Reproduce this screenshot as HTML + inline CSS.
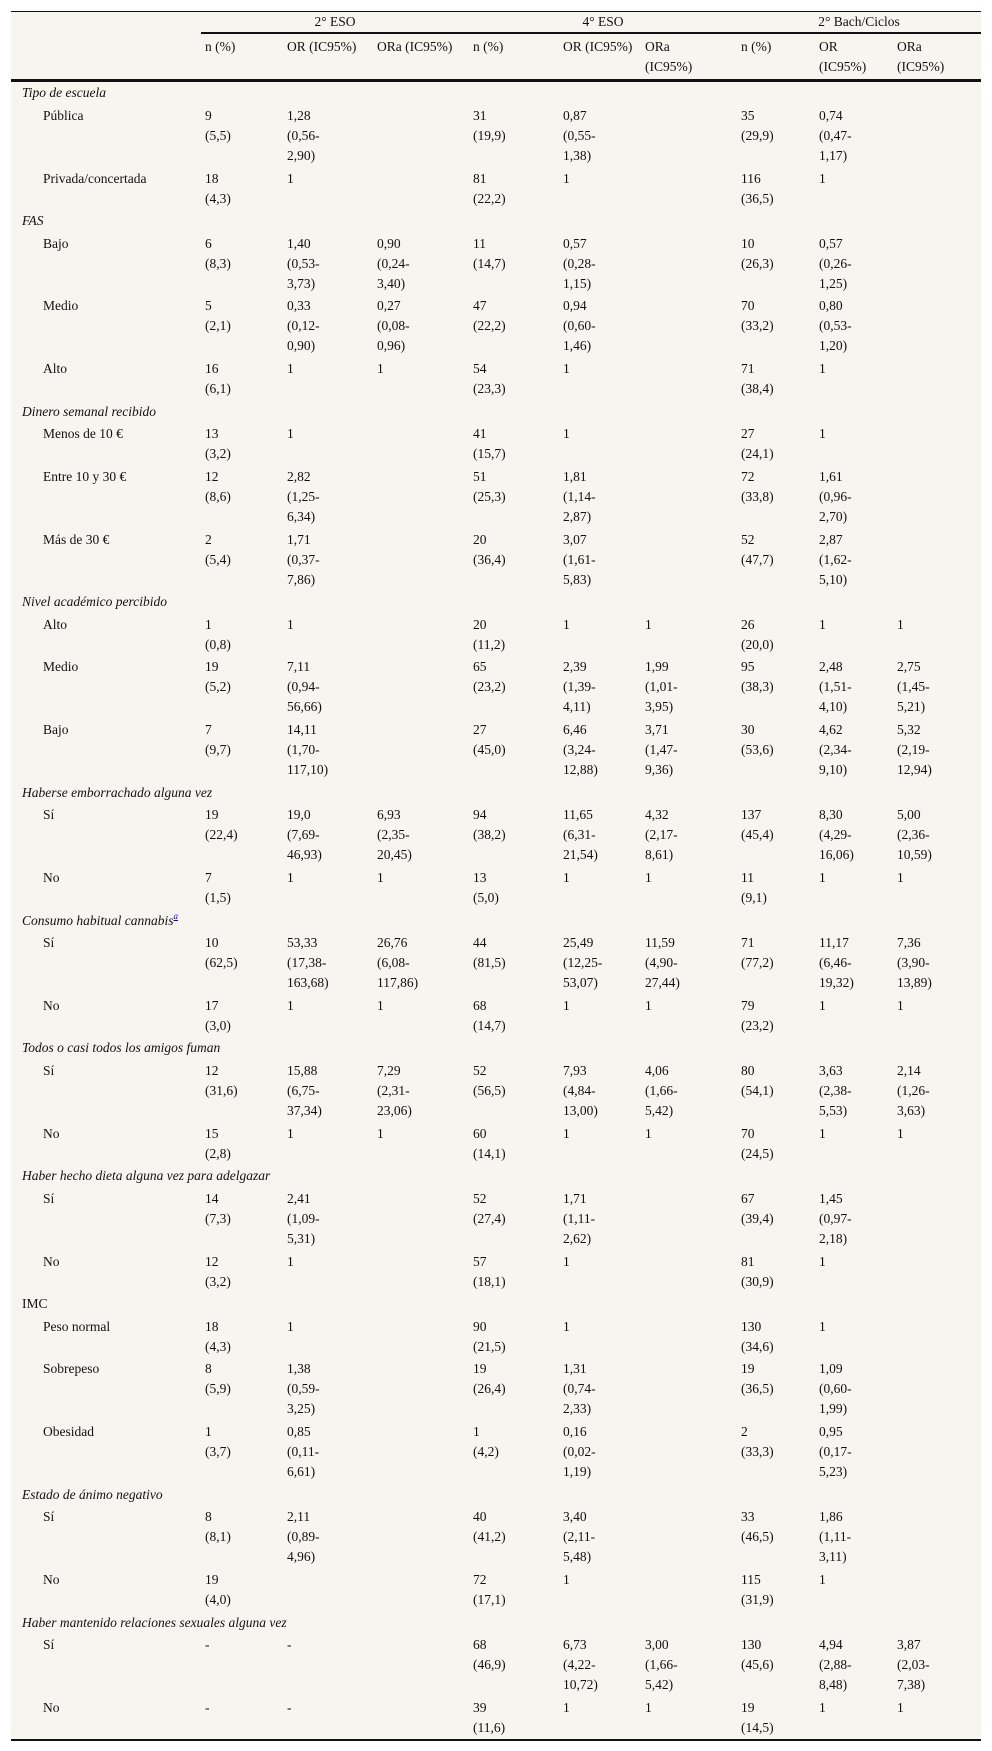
<!DOCTYPE html>
<html><head><meta charset="utf-8">
<style>
html,body{margin:0;padding:0;background:#fff;}
body{width:992px;height:1751px;position:relative;overflow:hidden;font-family:"Liberation Serif",serif;font-size:13.5px;color:#111;}
#tbl{position:absolute;left:11px;top:11px;width:970px;border-collapse:collapse;table-layout:fixed;background:#f7f5ef;border-top:1.5px solid #111;border-bottom:2px solid #111;}
#tbl td,#tbl th{padding:1.32px 0 1.32px 4px;line-height:20px;vertical-align:top;text-align:left;font-weight:normal;white-space:nowrap;}
#tbl th.grp{text-align:center;padding:0;height:20px;line-height:19px;border-bottom:2px solid #111;}
#tbl tr.sh th{padding-top:3px;padding-bottom:2px;border-bottom:3px solid #111;}
#tbl td.cat{font-style:italic;padding-left:11px;}
#tbl td.cat.plain{font-style:normal;}
#tbl td.sub{padding-left:32px;}
.fn{display:inline-block;height:0;line-height:0;vertical-align:baseline;position:relative;top:-6px;}
.fn a{color:#00e;font-size:9px;line-height:0;text-decoration:underline;}
</style></head><body>
<table id="tbl">
<colgroup><col style="width:190px"><col style="width:82px"><col style="width:90px"><col style="width:96px"><col style="width:90px"><col style="width:82px"><col style="width:96px"><col style="width:78px"><col style="width:78px"><col style="width:88px"></colgroup>
<thead>
<tr><th style="padding:0"></th><th class="grp" colspan="3">2° ESO</th><th class="grp" colspan="3">4° ESO</th><th class="grp" colspan="3">2° Bach/Ciclos</th></tr>
<tr class="sh"><th></th><th>n (%)</th><th>OR (IC95%)</th><th>ORa (IC95%)</th><th>n (%)</th><th>OR (IC95%)</th><th>ORa<br>(IC95%)</th><th>n (%)</th><th>OR<br>(IC95%)</th><th>ORa<br>(IC95%)</th></tr>
</thead>
<tbody id="tb"></tbody>
</table>
<script>
const rows = [
["Tipo de escuela","cat"],
["Pública","sub","9|(5,5)","1,28|(0,56-|2,90)","","31|(19,9)","0,87|(0,55-|1,38)","","35|(29,9)","0,74|(0,47-|1,17)",""],
["Privada/concertada","sub","18|(4,3)","1","","81|(22,2)","1","","116|(36,5)","1",""],
["FAS","cat"],
["Bajo","sub","6|(8,3)","1,40|(0,53-|3,73)","0,90|(0,24-|3,40)","11|(14,7)","0,57|(0,28-|1,15)","","10|(26,3)","0,57|(0,26-|1,25)",""],
["Medio","sub","5|(2,1)","0,33|(0,12-|0,90)","0,27|(0,08-|0,96)","47|(22,2)","0,94|(0,60-|1,46)","","70|(33,2)","0,80|(0,53-|1,20)",""],
["Alto","sub","16|(6,1)","1","1","54|(23,3)","1","","71|(38,4)","1",""],
["Dinero semanal recibido","cat"],
["Menos de 10 €","sub","13|(3,2)","1","","41|(15,7)","1","","27|(24,1)","1",""],
["Entre 10 y 30 €","sub","12|(8,6)","2,82|(1,25-|6,34)","","51|(25,3)","1,81|(1,14-|2,87)","","72|(33,8)","1,61|(0,96-|2,70)",""],
["Más de 30 €","sub","2|(5,4)","1,71|(0,37-|7,86)","","20|(36,4)","3,07|(1,61-|5,83)","","52|(47,7)","2,87|(1,62-|5,10)",""],
["Nivel académico percibido","cat"],
["Alto","sub","1|(0,8)","1","","20|(11,2)","1","1","26|(20,0)","1","1"],
["Medio","sub","19|(5,2)","7,11|(0,94-|56,66)","","65|(23,2)","2,39|(1,39-|4,11)","1,99|(1,01-|3,95)","95|(38,3)","2,48|(1,51-|4,10)","2,75|(1,45-|5,21)"],
["Bajo","sub","7|(9,7)","14,11|(1,70-|117,10)","","27|(45,0)","6,46|(3,24-|12,88)","3,71|(1,47-|9,36)","30|(53,6)","4,62|(2,34-|9,10)","5,32|(2,19-|12,94)"],
["Haberse emborrachado alguna vez","cat"],
["Sí","sub","19|(22,4)","19,0|(7,69-|46,93)","6,93|(2,35-|20,45)","94|(38,2)","11,65|(6,31-|21,54)","4,32|(2,17-|8,61)","137|(45,4)","8,30|(4,29-|16,06)","5,00|(2,36-|10,59)"],
["No","sub","7|(1,5)","1","1","13|(5,0)","1","1","11|(9,1)","1","1"],
["Consumo habitual cannabis","cat","sup"],
["Sí","sub","10|(62,5)","53,33|(17,38-|163,68)","26,76|(6,08-|117,86)","44|(81,5)","25,49|(12,25-|53,07)","11,59|(4,90-|27,44)","71|(77,2)","11,17|(6,46-|19,32)","7,36|(3,90-|13,89)"],
["No","sub","17|(3,0)","1","1","68|(14,7)","1","1","79|(23,2)","1","1"],
["Todos o casi todos los amigos fuman","cat"],
["Sí","sub","12|(31,6)","15,88|(6,75-|37,34)","7,29|(2,31-|23,06)","52|(56,5)","7,93|(4,84-|13,00)","4,06|(1,66-|5,42)","80|(54,1)","3,63|(2,38-|5,53)","2,14|(1,26-|3,63)"],
["No","sub","15|(2,8)","1","1","60|(14,1)","1","1","70|(24,5)","1","1"],
["Haber hecho dieta alguna vez para adelgazar","cat"],
["Sí","sub","14|(7,3)","2,41|(1,09-|5,31)","","52|(27,4)","1,71|(1,11-|2,62)","","67|(39,4)","1,45|(0,97-|2,18)",""],
["No","sub","12|(3,2)","1","","57|(18,1)","1","","81|(30,9)","1",""],
["IMC","catplain"],
["Peso normal","sub","18|(4,3)","1","","90|(21,5)","1","","130|(34,6)","1",""],
["Sobrepeso","sub","8|(5,9)","1,38|(0,59-|3,25)","","19|(26,4)","1,31|(0,74-|2,33)","","19|(36,5)","1,09|(0,60-|1,99)",""],
["Obesidad","sub","1|(3,7)","0,85|(0,11-|6,61)","","1|(4,2)","0,16|(0,02-|1,19)","","2|(33,3)","0,95|(0,17-|5,23)",""],
["Estado de ánimo negativo","cat"],
["Sí","sub","8|(8,1)","2,11|(0,89-|4,96)","","40|(41,2)","3,40|(2,11-|5,48)","","33|(46,5)","1,86|(1,11-|3,11)",""],
["No","sub","19|(4,0)","","","72|(17,1)","1","","115|(31,9)","1",""],
["Haber mantenido relaciones sexuales alguna vez","cat"],
["Sí","sub","-","-","","68|(46,9)","6,73|(4,22-|10,72)","3,00|(1,66-|5,42)","130|(45,6)","4,94|(2,88-|8,48)","3,87|(2,03-|7,38)"],
["No","sub","-","-","","39|(11,6)","1","1","19|(14,5)","1","1"]
];
const tb = document.getElementById('tb');
rows.forEach(function(r){
  const tr = document.createElement('tr');
  
  
  const td = document.createElement('td');
  if (r[1] === 'sub') { td.className = 'sub'; } else { td.className = 'cat' + (r[1] === 'catplain' ? ' plain' : ''); td.colSpan = 10; }
  td.textContent = r[0];
  
  
  if (r[2] === 'sup') {
    const s = document.createElement('span');
    s.className = 'fn';
    const a = document.createElement('a');
    a.textContent = 'a';
    
    
    s.appendChild(a);
    td.appendChild(s);
  }
  tr.appendChild(td);
  if (r[1] === 'sub') {
    for (let i = 2; i < 11; i++) {
      const c = document.createElement('td');
      c.innerHTML = (r[i] || '').split('|').join('<br>');
      
      
      tr.appendChild(c);
    }
  }
  tb.appendChild(tr);
});
</script>
</body></html>
